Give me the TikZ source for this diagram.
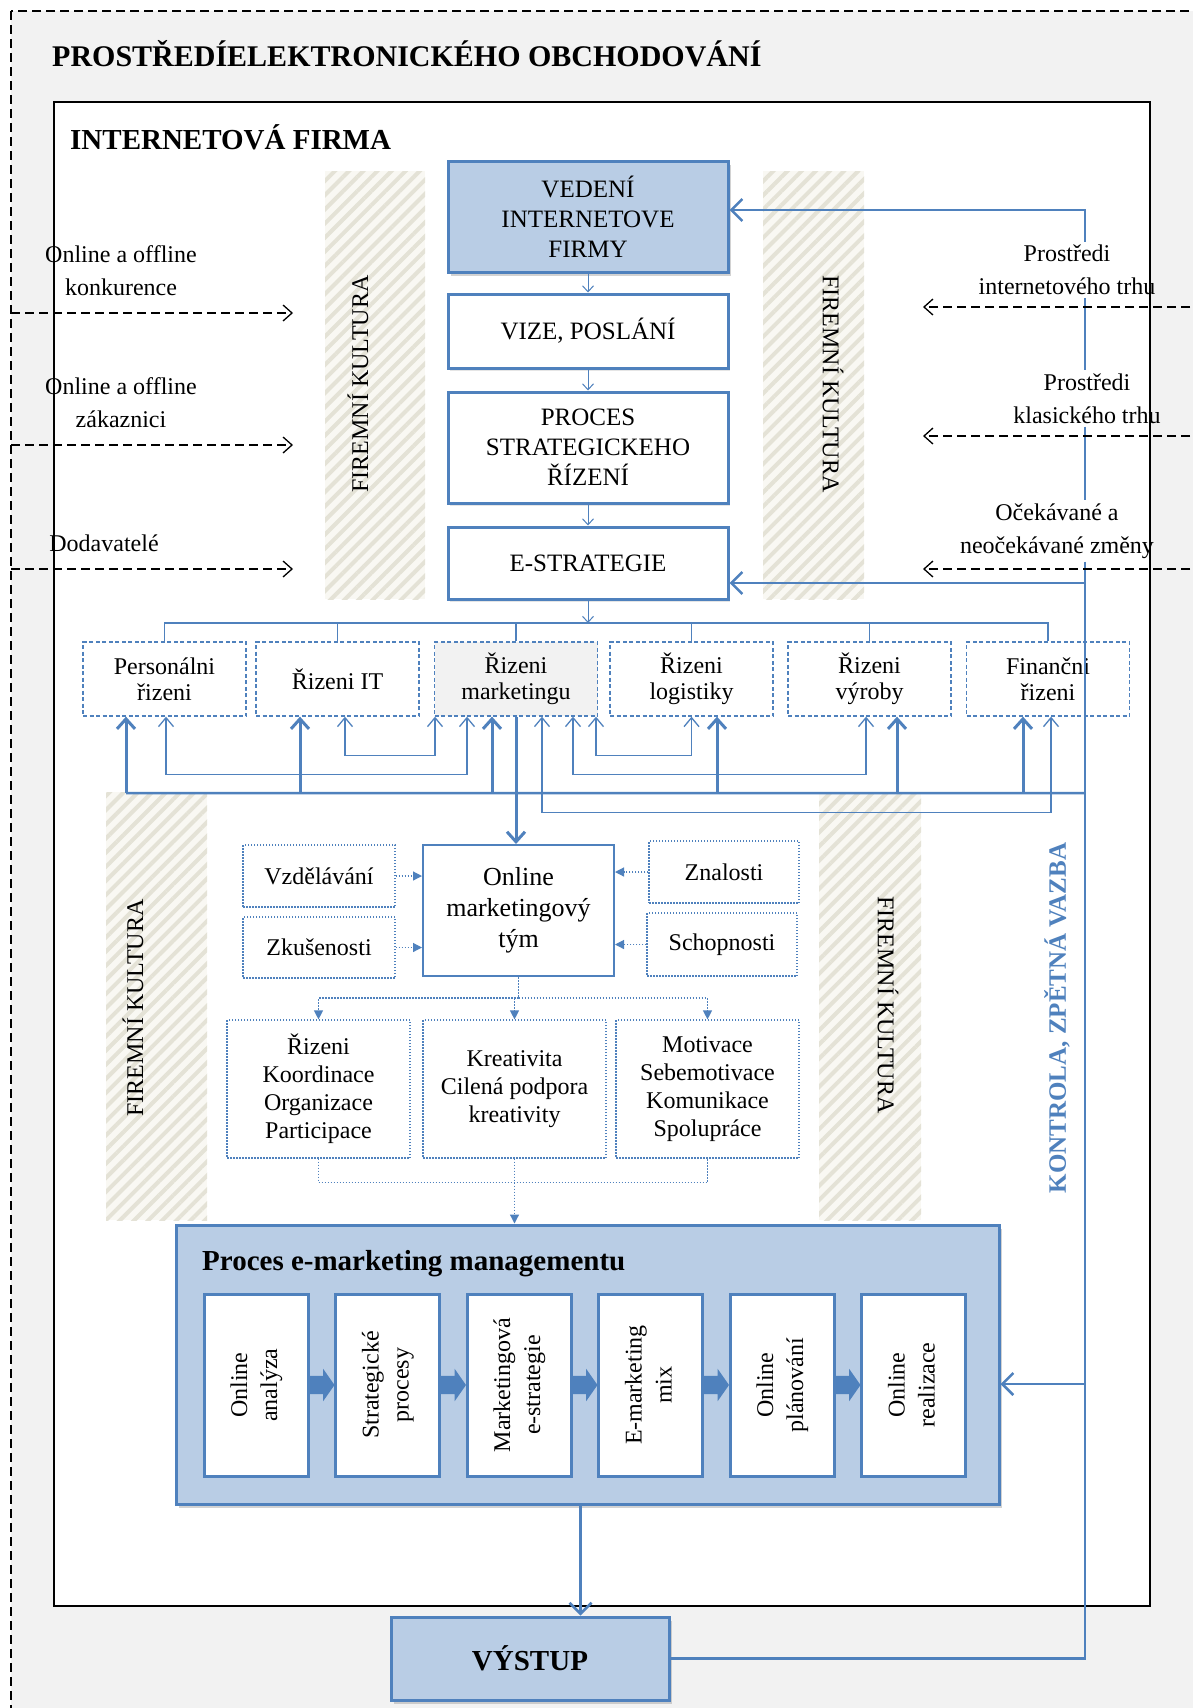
\documentclass[tikz,border=0pt]{standalone}
\usepackage{fontspec}
\setmainfont{Liberation Serif}
\usetikzlibrary{arrows.meta,shadows,patterns.meta,shapes.arrows}

\definecolor{lineblue}{HTML}{4F81BD}
\definecolor{fillblue}{HTML}{B9CDE5}
\definecolor{bggray}{HTML}{F2F2F2}
\definecolor{hatchline}{HTML}{E4E2D6}
\definecolor{hatchbg}{HTML}{F9F8F3}

\tikzset{
  every node/.style={font=\fontsize{24}{30}\selectfont, align=center},
  bluebox/.style={draw=lineblue, line width=3pt, fill=fillblue,
    drop shadow={shadow xshift=3pt, shadow yshift=-4pt, fill=black!35}},
  whitebox/.style={draw=lineblue, line width=3pt, fill=white,
    drop shadow={shadow xshift=2pt, shadow yshift=-3pt, fill=black!20},
    font=\fontsize{25}{30}\selectfont},
  deptbox/.style={draw=lineblue, line width=1.3pt, dash pattern=on 4pt off 2.5pt,
    minimum width=163, minimum height=74, font=\fontsize{24}{26}\selectfont},
  dotbox/.style={draw=lineblue, line width=1.2pt, dash pattern=on 1.5pt off 1.5pt},
  stepbox/.style={draw=lineblue, line width=3pt, fill=white,
    minimum width=104, minimum height=182},
  blockarr/.style={single arrow, fill=lineblue, single arrow head extend=7pt,
    inner xsep=0pt, inner ysep=9pt, minimum height=25, single arrow tip angle=110,
    outer sep=0pt, anchor=tail},
  stripe/.style={preaction={fill=hatchbg},
    pattern={Lines[angle=45,distance=10pt,line width=4pt]}, pattern color=hatchline},
  culture/.style={font=\fontsize{24}{30}\selectfont},
  extlabel/.style={font=\fontsize{24}{33}\selectfont, inner sep=3pt},
  smallarr/.style={draw=lineblue, line width=1pt, -{Straight Barb[length=6pt,width=11pt]}},
  busline/.style={draw=lineblue, line width=1.5pt},
  thinarr/.style={draw=lineblue, line width=1.3pt,
    {Straight Barb[length=9pt,width=15pt]}-{Straight Barb[length=9pt,width=15pt]}},
  thickarr/.style={draw=lineblue, line width=3pt, -{Straight Barb[length=10pt,width=18pt]}},
  thickup/.style={draw=lineblue, line width=3pt, {Straight Barb[length=10pt,width=18pt]}-},
  fbline/.style={draw=lineblue, line width=2.5pt},
  fbarr/.style={fbline, -{Straight Barb[length=11pt,width=22pt]}},
  dotline/.style={draw=lineblue, line width=1.2pt, dash pattern=on 1.5pt off 1.5pt},
  dotarr/.style={dotline, -{Triangle[length=9pt,width=9pt]}},
  dasharr/.style={draw=black, line width=1.3pt, dash pattern=on 9pt off 5pt,
    -{Straight Barb[length=9pt,width=16pt]}},
}

\begin{document}
\begin{tikzpicture}[x=1pt,y=-1pt]
  \useasboundingbox (0,0) rectangle (1193,1708);

  % prostredi elektronickeho obchodovani
  \coordinate (envNW) at (11,11);
  \coordinate (envSE) at (1260,1780);
  \draw[fill=bggray, line width=1.3pt, dash pattern=on 9pt off 5pt] (envNW) rectangle (envSE);
  \node[anchor=west, inner sep=0pt, font=\bfseries\fontsize{30}{36}\selectfont] (env) at (52,54)
    {PROSTŘEDÍELEKTRONICKÉHO OBCHODOVÁNÍ};

  % internetova firma
  \draw[fill=white, line width=2pt] (54,102) rectangle (1150,1606);
  \node[anchor=west, inner sep=0pt, font=\bfseries\fontsize{29}{34}\selectfont] (firm) at (70,137)
    {INTERNETOVÁ FIRMA};

  % firemni kultura
  \path[stripe] (325,171) rectangle (425,599);
  \path[stripe] (763,171) rectangle (864,599);
  \path[stripe] (106,792) rectangle (207,1220);
  \path[stripe] (819,792) rectangle (921,1220);
  \node[culture, rotate=90] (fk1) at (358,384) {FIREMNÍ KULTURA};
  \node[culture, rotate=-90] (fk2) at (833,384) {FIREMNÍ KULTURA};
  \node[culture, rotate=90] (fk3) at (133,1008) {FIREMNÍ KULTURA};
  \node[culture, rotate=-90] (fk4) at (888,1005) {FIREMNÍ KULTURA};

  % vedeni -> e-strategie
  \node[bluebox, font=\fontsize{25}{30}\selectfont, minimum width=280, minimum height=111]
    (ved) at (588,216.5) {VEDENÍ\\INTERNETOVE\\FIRMY};
  \node[whitebox, minimum width=280, minimum height=74] (vize) at (588,331) {VIZE, POSLÁNÍ};
  \node[whitebox, minimum width=280, minimum height=111] (proc) at (588,447.5)
    {PROCES\\STRATEGICKEHO\\ŘÍZENÍ};
  \node[whitebox, minimum width=280, minimum height=72] (estr) at (588,563) {E-STRATEGIE};
  \draw[smallarr] (ved) -- (vize);
  \draw[smallarr] (vize) -- (proc);
  \draw[smallarr] (proc) -- (estr);

  % utvary
  \node[deptbox] (pers) at (164.5,679) {Personálni\\řizeni};
  \node[deptbox] (it) at (337.5,679) {Řizeni IT};
  \node[deptbox, fill=bggray] (mkt) at (516,679) {Řizeni\\marketingu};
  \node[deptbox] (log) at (691.5,679) {Řizeni\\logistiky};
  \node[deptbox] (vyr) at (869.5,679) {Řizeni\\výroby};
  \node[deptbox] (fin) at (1048,679) {Finančni\\řizeni};

  \coordinate (bus) at (588,623);
  \draw[smallarr] (estr) -- (bus);
  \draw[busline] (pers.north) |- (bus) -| (fin.north);
  \draw[busline] (it.north) -- (it.north |- bus);
  \draw[busline] (mkt.north) -- (mkt.north |- bus);
  \draw[busline] (log.north) -- (log.north |- bus);
  \draw[busline] (vyr.north) -- (vyr.north |- bus);

  % vazby mezi utvary
  \draw[thinarr] ([xshift=1.5pt]pers.south) -- ++(0,57.5) -| ([xshift=-49pt]mkt.south);
  \draw[thinarr] ([xshift=7.5pt]it.south) -- ++(0,38.5) -| ([xshift=-81pt]mkt.south);
  \draw[thinarr] ([xshift=80pt]mkt.south) -- ++(0,38.5) -| (log.south);
  \draw[thinarr] ([xshift=57pt]mkt.south) -- ++(0,57.5) -| ([xshift=-3.5pt]vyr.south);
  \draw[thinarr] ([xshift=26pt]mkt.south) -- ++(0,95.5) -| ([xshift=3pt]fin.south);

  % kontrola, zpetna vazba
  \coordinate (fbx) at (1085,793);
  \coordinate (fbV) at (1085,210);
  \coordinate (fbE) at (1085,583);
  \coordinate (fbP) at (1085,1384);
  \draw[fbline] ([xshift=-38.5pt]pers.south) ++(0,76.5) -- (fbx);
  \draw[thickup] ([xshift=-38.5pt]pers.south) -- ++(0,76.5);
  \draw[thickup] ([xshift=-37.5pt]it.south) -- ++(0,76.5);
  \draw[thickup] ([xshift=-24pt]mkt.south) -- ++(0,76.5);
  \draw[thickup] ([xshift=25.5pt]log.south) -- ++(0,76.5);
  \draw[thickup] ([xshift=27.5pt]vyr.south) -- ++(0,76.5);
  \draw[thickup] ([xshift=-25pt]fin.south) -- ++(0,76.5);

  % online marketingovy tym
  \node[draw=lineblue, line width=2pt, fill=white, minimum width=191, minimum height=131,
    font=\fontsize{26}{31}\selectfont] (omt) at (518.5,910.5) {Online\\marketingový\\tým};
  \draw[thickarr] (mkt.south) -- (mkt.south |- omt.north);
  \node[dotbox, minimum width=152, minimum height=62] (vzd) at (319,876) {Vzdělávání};
  \node[dotbox, minimum width=152, minimum height=61] (zku) at (319,947.5) {Zkušenosti};
  \node[dotbox, minimum width=150, minimum height=62] (zna) at (724,872) {Znalosti};
  \node[dotbox, minimum width=150, minimum height=63] (sch) at (722,944.5) {Schopnosti};
  \draw[dotarr] (vzd) -- (vzd -| omt.west);
  \draw[dotarr] (zku) -- (zku -| omt.west);
  \draw[dotarr] (zna) -- (zna -| omt.east);
  \draw[dotarr] (sch) -- (sch -| omt.east);

  \node[dotbox, minimum width=183, minimum height=138, font=\fontsize{24}{28}\selectfont]
    (k1) at (318.5,1089) {Řizeni\\Koordinace\\Organizace\\Participace};
  \node[dotbox, minimum width=183, minimum height=138, font=\fontsize{24}{28}\selectfont]
    (k2) at (514.5,1089) {Kreativita\\Cilená podpora\\kreativity};
  \node[dotbox, minimum width=183, minimum height=138, font=\fontsize{24}{28}\selectfont]
    (k3) at (707.5,1089) {Motivace\\Sebemotivace\\Komunikace\\Spolupráce};
  \draw[dotline] (omt.south) -- ++(0,21) coordinate (split);
  \draw[dotarr] (split) -| (k1.north);
  \draw[dotarr] (split) -| (k3.north);
  \draw[dotarr] (k2.north |- split) -- (k2.north);
  \draw[dotline] (k1.south) -- ++(0,24) -| (k3.south);

  % proces e-marketing managementu
  \node[bluebox, minimum width=823, minimum height=279] (proces) at (587.5,1364.5) {};
  \draw[dotarr] (k2.south) -- (k2.south |- proces.north);
  \node[anchor=west, inner sep=0pt, font=\bfseries\fontsize{29}{34}\selectfont] (ptitle)
    at (202,1264) {Proces e-marketing managementu};
  \node[stepbox] (s1) at (256,1385)
    {\rotatebox{90}{\begin{tabular}{@{}c@{}}Online\\analýza\end{tabular}}};
  \node[stepbox] (s2) at (387.5,1385)
    {\rotatebox{90}{\begin{tabular}{@{}c@{}}Strategické\\procesy\end{tabular}}};
  \node[stepbox] (s3) at (519,1385)
    {\rotatebox{90}{\begin{tabular}{@{}c@{}}Marketingová\\e-strategie\end{tabular}}};
  \node[stepbox] (s4) at (650.5,1385)
    {\rotatebox{90}{\begin{tabular}{@{}c@{}}E-marketing\\mix\end{tabular}}};
  \node[stepbox] (s5) at (782,1385)
    {\rotatebox{90}{\begin{tabular}{@{}c@{}}Online\\plánování\end{tabular}}};
  \node[stepbox] (s6) at (913.5,1385)
    {\rotatebox{90}{\begin{tabular}{@{}c@{}}Online\\realizace\end{tabular}}};
  \node[blockarr] (b12) at (s1.east) {};
  \node[blockarr] (b23) at (s2.east) {};
  \node[blockarr] (b34) at (s3.east) {};
  \node[blockarr] (b45) at (s4.east) {};
  \node[blockarr] (b56) at (s5.east) {};

  % vystup
  \node[bluebox, minimum width=278, minimum height=83, font=\bfseries\fontsize{29}{34}\selectfont]
    (vystup) at (530,1658.5) {VÝSTUP};
  \draw[fbarr] ([xshift=-7pt]proces.south) -- ([xshift=-7pt]proces.south |- vystup.north);

  % vnejsi vlivy
  \node[extlabel] (l1) at (121,270.5) {Online a offline\\konkurence};
  \node[extlabel] (l2) at (121,402.5) {Online a offline\\zákaznici};
  \node[extlabel] (l3) at (104,543) {Dodavatelé};
  \node[extlabel] (r1) at (1067,270) {Prostředi\\internetového trhu};
  \node[extlabel] (r2) at (1087,398.5) {Prostředi\\klasického trhu};
  \node[extlabel] (r3) at (1057,531) {Očekávané a\\neočekávané změny};

  \draw[fbarr] (r1.north -| fbV) -- (fbV) -- (fbV -| ved.east);
  \draw[fbline] (r1.south -| fbV) -- (r2.north -| fbV);
  \draw[fbline] (r2.south -| fbV) -- (r3.north -| fbV);
  \draw[fbline] (r3.south -| fbV) |- (vystup.east);
  \draw[fbarr] (fbE) -- (fbE -| estr.east);
  \draw[fbarr] (fbP) -- (fbP -| proces.east);
  \node[rotate=90, text=lineblue, font=\bfseries\fontsize{25}{30}\selectfont] (kontrola)
    at (1057,1018) {KONTROLA, ZPĚTNÁ VAZBA};

  \coordinate (in1) at (293,313);
  \coordinate (in2) at (293,445);
  \coordinate (in3) at (293,569);
  \coordinate (ex1) at (923,307);
  \coordinate (ex2) at (923,436);
  \coordinate (ex3) at (923,569);
  \draw[dasharr] (in1 -| envNW) -- (in1);
  \draw[dasharr] (in2 -| envNW) -- (in2);
  \draw[dasharr] (in3 -| envNW) -- (in3);
  \draw[dasharr] (ex1 -| envSE) -- (ex1);
  \draw[dasharr] (ex2 -| envSE) -- (ex2);
  \draw[dasharr] (ex3 -| envSE) -- (ex3);
\end{tikzpicture}
\end{document}
